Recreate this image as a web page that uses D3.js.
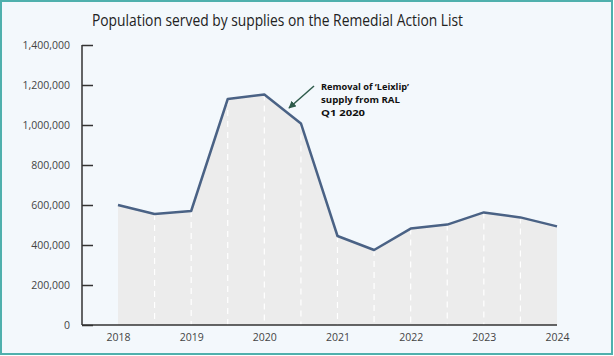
<!DOCTYPE html>
<html><head><meta charset="utf-8">
<script src="https://cdn.jsdelivr.net/npm/d3@7"></script>
<style>
html,body{margin:0;padding:0;background:#fff;}
svg{display:block;}
</style></head>
<body>
<script>
const periods = ["2018","2018H2","2019","2019H2","2020","2020H2","2021","2021H2","2022","2022H2","2023","2023H2","2024"];
const population = [600000,555000,570000,1130000,1153000,1008000,445000,375000,482000,502000,563000,538000,493000];
const yTicks = [0,200000,400000,600000,800000,1000000,1200000,1400000];
const xLabels = ["2018","2019","2020","2021","2022","2023","2024"];
const title = "Population served by supplies on the Remedial Action List";
const annotation = ["Removal of \u2018Leixlip\u2019","supply from RAL","Q1 2020"];
const annotationWidths = [88,79,44];

const W=614,H=356;
const svg=d3.select("body").append("svg").attr("width",W).attr("height",H);
svg.append("rect").attr("x",1).attr("y",1).attr("width",W-3).attr("height",H-3)
  .attr("fill","#f3f8fc").attr("stroke","#4fb0ad").attr("stroke-width",2);

const x=d3.scalePoint().domain(periods).range([118,557]);
const y=d3.scaleLinear().domain([0,1400000]).range([325,45]);

svg.append("text").attr("x",92).attr("y",26).attr("font-family","Open Sans, sans-serif")
  .attr("font-size",15.5).attr("fill","#222").attr("textLength",371).attr("lengthAdjust","spacingAndGlyphs").text(title);

const data=periods.map((p,i)=>({p,v:population[i]}));
svg.append("path").datum(data).attr("fill","#ececec")
  .attr("d",d3.area().x(d=>x(d.p)).y0(y(0)).y1(d=>y(d.v)));

svg.selectAll("line.drop").data(data.slice(1,-1)).join("line").attr("class","drop")
  .attr("x1",d=>x(d.p)).attr("x2",d=>x(d.p)).attr("y1",d=>y(d.v)).attr("y2",y(0))
  .attr("stroke","#ffffff").attr("stroke-width",1.2).attr("stroke-dasharray","6,5");

svg.append("path").datum(data).attr("fill","none").attr("stroke","#4a6285").attr("stroke-width",2.5)
  .attr("stroke-linejoin","round")
  .attr("d",d3.line().x(d=>x(d.p)).y(d=>y(d.v)));

// Y axis
const ya=svg.append("g").attr("transform","translate(82,0)")
  .call(d3.axisRight(y).tickValues(yTicks).tickSize(11).tickFormat(()=>""));
ya.select(".domain").attr("stroke","#333").attr("stroke-width",1.5).attr("d","M0,45V325");
ya.selectAll(".tick line").attr("stroke","#333").attr("stroke-width",1.5);
svg.selectAll("text.ylab").data(yTicks).join("text").attr("class","ylab")
  .attr("x",70).attr("y",d=>y(d)+4).attr("text-anchor","end")
  .attr("font-family","Open Sans, sans-serif").attr("font-size",10.5).attr("fill","#444")
  .text(d=>d===0?"0":d3.format(",")(d));

// X axis
const xa=svg.append("g").attr("transform","translate(0,325)")
  .call(d3.axisBottom(x).tickValues(xLabels).tickSize(0).tickPadding(9));
xa.select(".domain").attr("stroke","#333").attr("stroke-width",1.5).attr("d","M82,0H557");
xa.selectAll("text").attr("font-family","Open Sans, sans-serif").attr("font-size",10.5).attr("fill","#444");

// Annotation
svg.selectAll("text.ann").data(annotation).join("text").attr("class","ann")
  .attr("x",321).attr("y",(d,i)=>89.5+i*13)
  .attr("font-family","Open Sans, sans-serif").attr("font-weight","bold")
  .attr("font-size",9.5).attr("fill","#111")
  .attr("textLength",(d,i)=>annotationWidths[i]).attr("lengthAdjust","spacingAndGlyphs")
  .text(d=>d);
svg.append("defs").append("marker").attr("id","ah").attr("viewBox","0 0 10 10").attr("refX",9).attr("refY",5)
  .attr("markerWidth",5).attr("markerHeight",5).attr("orient","auto")
  .append("path").attr("d","M0,0L10,5L0,10z").attr("fill","#2e5b4b");
svg.append("line").attr("x1",314).attr("y1",86).attr("x2",289).attr("y2",108)
  .attr("stroke","#2e5b4b").attr("stroke-width",1.5).attr("marker-end","url(#ah)");
</script>
</body></html>
